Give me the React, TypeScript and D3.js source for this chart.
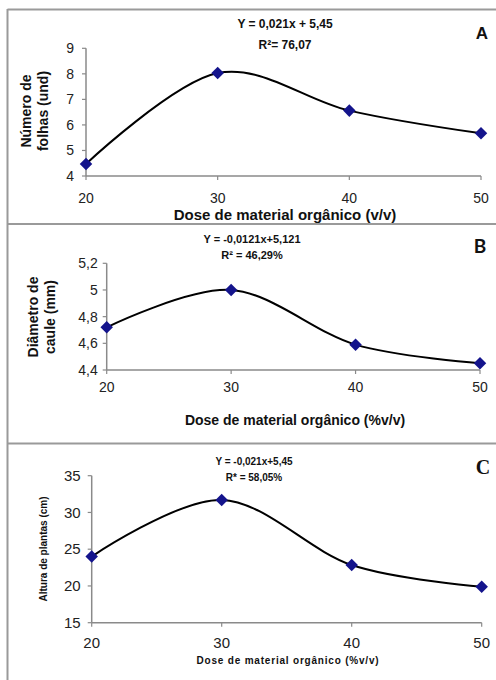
import React from "react";
import * as d3 from "d3";

const doses = [20, 30, 40, 50];
const folhas = [4.47, 8.03, 6.56, 5.67];
const diametro = [4.72, 5.0, 4.59, 4.45];
const altura = [24.0, 31.7, 22.85, 19.9];

const ticksA = [4, 5, 6, 7, 8, 9];
const ticksB = [4.4, 4.6, 4.8, 5.0, 5.2];
const ticksC = [15, 20, 25, 30, 35];

const fmtComma = (v: number) => String(+v.toFixed(1)).replace(".", ",");

const SANS = "'Liberation Sans', Arial, sans-serif";

type PanelCfg = {
  values: number[];
  yTicks: number[];
  yDomain: [number, number];
  xRange: [number, number];
  yRange: [number, number];
  tickFont: number;
  tickLabelGap: number;
  xTickY: number;
  eq: string;
  r2: string;
  eqX: number;
  eqY: number;
  r2Y: number;
  eqFont: number;
  letter: string;
  letterX: number;
  letterY: number;
  letterFont: number;
  letterFamily: string;
  yTitle: string[];
  yTitleX: number[];
  yTitleY: number;
  yTitleFont: number;
  xTitle: string;
  xTitleX: number;
  xTitleY: number;
  xTitleFont: number;
  xTitleSpacing: number;
};

function Panel({ c }: { c: PanelCfg }) {
  const x = d3.scaleLinear().domain([20, 50]).range(c.xRange);
  const y = d3.scaleLinear().domain(c.yDomain).range(c.yRange);
  const pts: [number, number][] = doses.map((d, i) => [x(d), y(c.values[i])]);
  const line = d3.line().curve(d3.curveCardinal.tension(0))(pts) || "";
  const axisColor = "#8a8a8a";
  const x0 = c.xRange[0];
  const yb = c.yRange[0];
  const diamond = d3.symbol().type(d3.symbolDiamond2).size(100)() || "";
  return (
    <g>
      <line x1={x0} x2={x0} y1={y(c.yDomain[1])} y2={yb} stroke={axisColor} strokeWidth={1.5} />
      <line x1={x0} x2={c.xRange[1]} y1={yb} y2={yb} stroke={axisColor} strokeWidth={1.5} />
      {c.yTicks.map((t) => (
        <g key={"yt" + t}>
          <line x1={x0 - 4} x2={x0} y1={y(t)} y2={y(t)} stroke={axisColor} strokeWidth={1.2} />
          <text x={x0 - c.tickLabelGap} y={y(t)} dy="0.35em" textAnchor="end" fontSize={c.tickFont} fontFamily={SANS} fill="#222">
            {fmtComma(t)}
          </text>
        </g>
      ))}
      {doses.map((d) => (
        <g key={"xt" + d}>
          <line x1={x(d)} x2={x(d)} y1={yb} y2={yb + 4} stroke={axisColor} strokeWidth={1.2} />
          <text x={x(d)} y={c.xTickY} dy="0.35em" textAnchor="middle" fontSize={c.tickFont} fontFamily={SANS} fill="#222">
            {d}
          </text>
        </g>
      ))}
      <path d={line} fill="none" stroke="#000" strokeWidth={2} />
      {pts.map((p, i) => (
        <path key={"m" + i} d={diamond} transform={`translate(${p[0]},${p[1]})`} fill="#14148c" />
      ))}
      <text x={c.eqX} y={c.eqY} dy="0.35em" textAnchor="middle" fontSize={c.eqFont} fontWeight="bold" fontFamily={SANS} fill="#111">
        {c.eq}
      </text>
      <text x={c.eqX} y={c.r2Y} dy="0.35em" textAnchor="middle" fontSize={c.eqFont} fontWeight="bold" fontFamily={SANS} fill="#111">
        {c.r2}
      </text>
      <text x={c.letterX} y={c.letterY} dy="0.35em" textAnchor="middle" fontSize={c.letterFont} fontWeight="bold" fontFamily={c.letterFamily} fill="#111">
        {c.letter}
      </text>
      {c.yTitle.map((t, i) => (
        <text
          key={"ytl" + i}
          transform={`translate(${c.yTitleX[i]},${c.yTitleY}) rotate(-90)`}
          dy="0.35em"
          textAnchor="middle"
          fontSize={c.yTitleFont}
          fontWeight="bold"
          fontFamily={SANS}
          fill="#111"
        >
          {t}
        </text>
      ))}
      <text x={c.xTitleX} y={c.xTitleY} dy="0.35em" textAnchor="middle" fontSize={c.xTitleFont} fontWeight="bold" fontFamily={SANS} letterSpacing={c.xTitleSpacing} fill="#111">
        {c.xTitle}
      </text>
    </g>
  );
}

const panelA: PanelCfg = {
  values: folhas,
  yTicks: ticksA,
  yDomain: [4, 9],
  xRange: [86, 481],
  yRange: [176, 48.3],
  tickFont: 14,
  tickLabelGap: 12,
  xTickY: 198,
  eq: "Y = 0,021x + 5,45",
  r2: "R²= 76,07",
  eqX: 285,
  eqY: 24,
  r2Y: 45,
  eqFont: 12,
  letter: "A",
  letterX: 482,
  letterY: 33,
  letterFont: 17,
  letterFamily: SANS,
  yTitle: ["Número de", "folhas (und)"],
  yTitleX: [26, 43],
  yTitleY: 111,
  yTitleFont: 14,
  xTitle: "Dose de material orgânico (v/v)",
  xTitleX: 285,
  xTitleY: 215,
  xTitleFont: 15,
  xTitleSpacing: 0,
};

const panelB: PanelCfg = {
  values: diametro,
  yTicks: ticksB,
  yDomain: [4.4, 5.2],
  xRange: [106.7, 480],
  yRange: [370, 263.3],
  tickFont: 14,
  tickLabelGap: 9,
  xTickY: 387,
  eq: "Y = -0,0121x+5,121",
  r2: "R² = 46,29%",
  eqX: 252,
  eqY: 239,
  r2Y: 255,
  eqFont: 11,
  letter: "B",
  letterX: 480,
  letterY: 246,
  letterFont: 19,
  letterFamily: "Lato, 'Open Sans', sans-serif",
  yTitle: ["Diâmetro de", "caule (mm)"],
  yTitleX: [33, 50],
  yTitleY: 317,
  yTitleFont: 14,
  xTitle: "Dose de material orgânico (%v/v)",
  xTitleX: 295,
  xTitleY: 420,
  xTitleFont: 14,
  xTitleSpacing: 0,
};

const panelC: PanelCfg = {
  values: altura,
  yTicks: ticksC,
  yDomain: [15, 35],
  xRange: [91.7, 481.7],
  yRange: [622.7, 475.7],
  tickFont: 15,
  tickLabelGap: 11,
  xTickY: 643,
  eq: "Y = -0,021x+5,45",
  r2: "R* = 58,05%",
  eqX: 254,
  eqY: 461.5,
  r2Y: 477,
  eqFont: 10,
  letter: "C",
  letterX: 483,
  letterY: 467,
  letterFont: 20,
  letterFamily: "'Liberation Serif', 'DejaVu Serif', serif",
  yTitle: ["Altura de plantas (cm)"],
  yTitleX: [43],
  yTitleY: 549,
  yTitleFont: 10,
  xTitle: "Dose de material orgânico (%v/v)",
  xTitleX: 288,
  xTitleY: 660,
  xTitleFont: 10,
  xTitleSpacing: 0.8,
};

export default function App() {
  const border = "#9a9a9a";
  return (
    <svg
      width={496}
      height={680}
      viewBox="0 0 496 680"
      style={{ position: "absolute", left: 0, top: 0, background: "#fff" }}
    >
      <rect x={0} y={0} width={496} height={680} fill="#fff" />
      <line x1={7.5} x2={7.5} y1={9} y2={680} stroke={border} strokeWidth={2} />
      <line x1={7.5} x2={496} y1={9.5} y2={9.5} stroke={border} strokeWidth={2} />
      <line x1={7.5} x2={496} y1={224} y2={224} stroke={border} strokeWidth={2} />
      <line x1={7.5} x2={496} y1={443.5} y2={443.5} stroke={border} strokeWidth={2} />
      <Panel c={panelA} />
      <Panel c={panelB} />
      <Panel c={panelC} />
    </svg>
  );
}
